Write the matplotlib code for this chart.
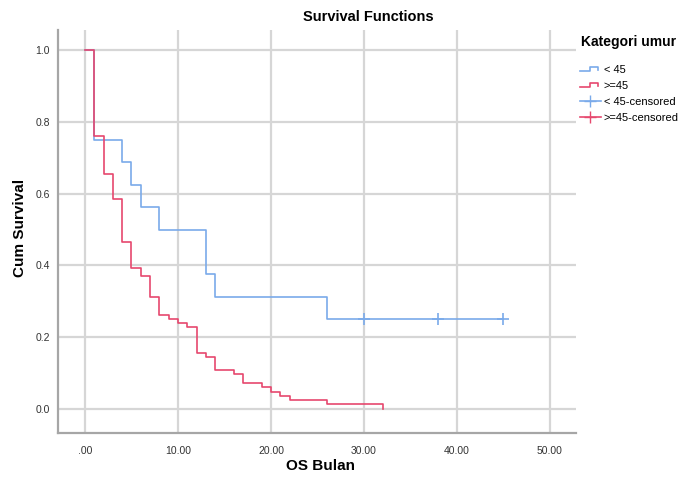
import matplotlib
matplotlib.use("Agg")
import matplotlib.pyplot as plt
from matplotlib.lines import Line2D
from matplotlib.legend_handler import HandlerBase

# Kaplan-Meier steps
blue_times = [0, 1, 4, 5, 6, 8, 13, 14, 26, 45]
blue_surv = [1.0, 0.75, 0.6875, 0.625, 0.5625, 0.5, 0.375, 0.3125, 0.25, 0.25]
blue_cens_t = [30, 38, 45]
blue_cens_s = [0.25, 0.25, 0.25]

red_times = [0, 1, 2, 3, 4, 5, 6, 7, 8, 9, 10, 11, 12, 13, 14, 16, 17, 19, 20,
             21, 22, 26, 32]
red_surv = [1.0, 0.76, 0.656, 0.585, 0.464, 0.394, 0.37, 0.311, 0.263, 0.251,
            0.240, 0.228, 0.156, 0.145, 0.109, 0.097, 0.072, 0.061, 0.048,
            0.037, 0.025, 0.014, 0.0]

x_ticks = [0, 10, 20, 30, 40, 50]
x_labels = [".00", "10.00", "20.00", "30.00", "40.00", "50.00"]
y_ticks = [0.0, 0.2, 0.4, 0.6, 0.8, 1.0]

blue = "#7aaaea"
red = "#e6486e"

plt.rcParams["font.family"] = ["Liberation Sans", "DejaVu Sans"]


class StepHandler(HandlerBase):
    """Small step shaped legend icon like SPSS uses."""

    def create_artists(self, legend, orig_handle, xdescent, ydescent,
                       width, height, fontsize, trans):
        x0 = -xdescent
        lo = -ydescent + height * 0.2
        hi = -ydescent + height * 0.75
        xs = [x0, x0 + width * 0.5, x0 + width * 0.5, x0 + width * 0.85,
              x0 + width * 0.85]
        ys = [lo, lo, hi, hi, lo + (hi - lo) * 0.35]
        line = Line2D(xs, ys, color=orig_handle.get_color(), lw=1.2)
        line.set_transform(trans)
        return [line]


def main():
    fig = plt.figure(figsize=(6.8, 4.79), dpi=100)
    ax = fig.add_axes([58 / 680, 46 / 479, 518 / 680, 403 / 479])

    ax.step(blue_times, blue_surv, where="post", color=blue, lw=1.2, zorder=3)
    ax.step(red_times, red_surv, where="post", color=red, lw=1.2, zorder=4)
    ax.plot(blue_cens_t, blue_cens_s, ls="none", marker="+", ms=8, mew=1.2,
            color=blue, zorder=5)

    ax.set_xlim(-2.9, 52.8)
    ax.set_ylim(-0.067, 1.056)
    ax.set_xticks(x_ticks)
    ax.set_xticklabels(x_labels)
    ax.set_yticks(y_ticks)
    ax.set_yticklabels([f"{v:.1f}" for v in y_ticks])
    ax.tick_params(length=0, labelsize=7.5, labelcolor="#333333")
    ax.tick_params(axis="x", pad=9)
    ax.tick_params(axis="y", pad=6)

    ax.grid(True, color="#d6d6d6", lw=1.6)
    ax.set_axisbelow(True)
    for side in ("top", "right"):
        ax.spines[side].set_visible(False)
    for side in ("left", "bottom"):
        ax.spines[side].set_color("#a6a6a6")
        ax.spines[side].set_linewidth(1.6)

    # axis titles and chart title placed in figure pixels
    fig.text(320 / 680, 1 - 466 / 479, "OS Bulan", fontsize=11,
             fontweight="bold", ha="center", va="center")
    fig.text(20 / 680, 1 - 228 / 479, "Cum Survival", fontsize=11,
             fontweight="bold", ha="center", va="center", rotation=90)
    fig.text(368 / 680, 1 - 17 / 479, "Survival Functions", fontsize=10.5,
             fontweight="bold", ha="center", va="center")

    fig.text(581 / 680, 1 - 42 / 479, "Kategori umur", fontsize=10,
             fontweight="bold", ha="left", va="center")
    handles = [Line2D([], [], color=blue), Line2D([], [], color=red),
               Line2D([], [], color=blue, marker="+", ms=9, lw=1.2),
               Line2D([], [], color=red, marker="+", ms=9, lw=1.2)]
    labels = ["< 45", ">=45", "< 45-censored", ">=45-censored"]
    fig.legend(handles, labels, loc="upper left",
               bbox_to_anchor=(571 / 680, 1 - 56 / 479), frameon=False,
               fontsize=8, handlelength=1.9, handletextpad=0.25,
               labelspacing=0.55, borderpad=0.3,
               handler_map={handles[0]: StepHandler(), handles[1]: StepHandler()})

    fig.savefig("out.png", dpi=100)


if __name__ == "__main__":
    main()
